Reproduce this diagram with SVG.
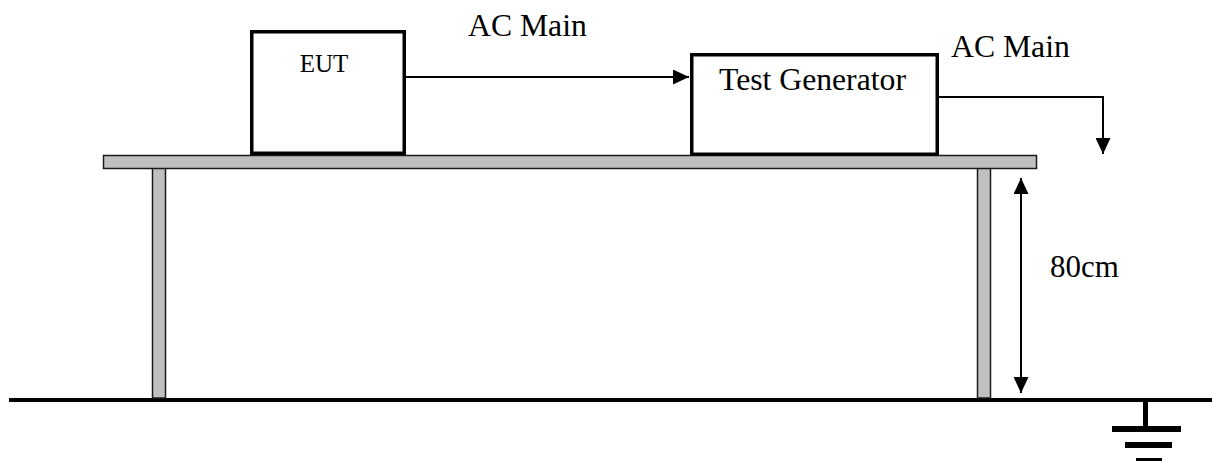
<svg xmlns="http://www.w3.org/2000/svg" width="1212" height="461" viewBox="0 0 1212 461">
  <style>
    .box { fill: #ffffff; stroke: #000000; stroke-width: 3.5; }
    .wood { fill: #c0c0c0; stroke: #1a1a1a; stroke-width: 1.5; }
    .wire { fill: none; stroke: #000000; stroke-width: 2; }
    .lbl { font-family: "Liberation Serif", "Times New Roman", serif; fill: #000000; }
    .gnd { fill: #000000; }
  </style>
  <defs>
    <marker id="arrow" viewBox="0 0 16 15" refX="16" refY="7.5" markerWidth="16" markerHeight="15" markerUnits="userSpaceOnUse" orient="auto-start-reverse">
      <path d="M0,0 L16,7.5 L0,15 z" fill="#000000"/>
    </marker>
  </defs>
  <rect width="1212" height="461" fill="#ffffff"/>

  <g id="ground-plane">
    <rect x="9" y="398" width="1203" height="4" fill="#000000"/>
  </g>

  <g id="table">
    <rect class="wood" x="152.5" y="168" width="13" height="230"/>
    <rect class="wood" x="977.5" y="168" width="13" height="230"/>
    <rect class="wood" x="103.5" y="155.5" width="933" height="13"/>
  </g>

  <g id="eut">
    <rect class="box" x="251.75" y="31.75" width="152.5" height="121.5"/>
    <text class="lbl" x="324" y="72" font-size="25" text-anchor="middle">EUT</text>
  </g>

  <g id="test-generator">
    <rect class="box" x="691.75" y="54.75" width="245.5" height="99.5"/>
    <text class="lbl" x="719" y="90" font-size="31.7">Test Generator</text>
  </g>

  <g id="labels">
    <text class="lbl" x="468" y="36" font-size="31.7">AC Main</text>
    <text class="lbl" x="951" y="57" font-size="31.7">AC Main</text>
    <text class="lbl" x="1050" y="277" font-size="31">80cm</text>
  </g>

  <g id="connectors">
    <line class="wire" x1="406" y1="77" x2="689" y2="77" marker-end="url(#arrow)"/>
    <polyline class="wire" points="939,97 1103,97 1103,154" marker-end="url(#arrow)"/>
    <line class="wire" x1="1021" y1="178" x2="1021" y2="393" marker-start="url(#arrow)" marker-end="url(#arrow)"/>
  </g>

  <g id="earth-symbol">
    <rect class="gnd" x="1143" y="400" width="5" height="28"/>
    <rect class="gnd" x="1112" y="426" width="69" height="6"/>
    <rect class="gnd" x="1125" y="442" width="47" height="6"/>
    <rect class="gnd" x="1136" y="458" width="26" height="6"/>
  </g>
</svg>
